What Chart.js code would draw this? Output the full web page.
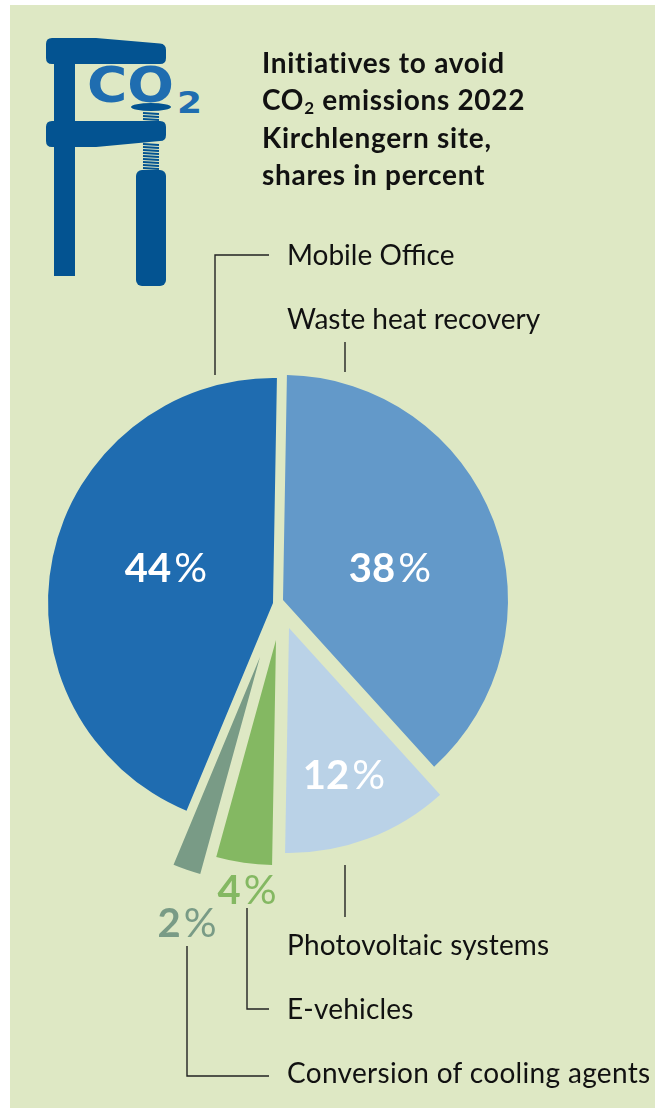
<!DOCTYPE html>
<html>
<head>
<meta charset="utf-8">
<script src="https://cdn.jsdelivr.net/npm/chart.js@4"></script>
<style>
  html, body { margin: 0; padding: 0; background: #fff; }
  #panel { position: absolute; left: 10px; top: 5px; width: 645px; height: 1103px; background: #dee8c4; }
  #myChart { position: absolute; left: 0; top: 0; }
  #clamp { position: absolute; left: 0; top: 0; }
  .txt { position: absolute; font-family: Lato, sans-serif; color: #111; white-space: nowrap; }
  .title { left: 262px; top: 44px; font-size: 28px; line-height: 37.3px; font-weight: 700; letter-spacing: 0.7px; }
  .title sub { font-size: 17px; line-height: 0; vertical-align: -4px; }
  .name { font-size: 28px; line-height: 34px; left: 287px; }
</style>
</head>
<body>
<div id="panel"></div>
<svg id="clamp" width="655" height="300" xmlns="http://www.w3.org/2000/svg">
  <g fill="#035391">
    <rect x="54" y="50" width="21" height="226"/>
    <path d="M52 38 H96 L160 43.5 Q166 44 166 50 V58 Q166 64 160 64 H52 Q46 64 46 58 V44 Q46 38 52 38 Z"/>
    <path d="M52 121 H160 Q166 121 166 127 V135 Q166 141 160 141 L96 147 H52 Q46 147 46 141 V127 Q46 121 52 121 Z"/>
    <rect x="136" y="170" width="30" height="116" rx="6"/>
    <ellipse cx="151" cy="107" rx="20" ry="4"/>
    <g stroke="#035391" stroke-width="2">
      <path d="M143 113 L159 114 M143 116 L159 117 M143 119 L159 120"/>
      <path d="M143 144 L159 145 M143 147 L159 148 M143 150 L159 151 M143 153 L159 154 M143 156 L159 157 M143 159 L159 160 M143 162 L159 163 M143 165 L159 166 M143 168 L159 169"/>
    </g>
  </g>
  <text x="87" y="102" font-family="'DejaVu Sans', sans-serif" font-weight="bold" font-size="50" fill="#1f6db0" textLength="87" lengthAdjust="spacingAndGlyphs">CO</text>
  <text x="177" y="113" font-family="'DejaVu Sans', sans-serif" font-weight="bold" font-size="31" fill="#1f6db0" textLength="25" lengthAdjust="spacingAndGlyphs">2</text>
</svg>
<canvas id="myChart"></canvas>
<div class="txt title">Initiatives to avoid<br>CO<sub>2</sub> emissions 2022<br>Kirchlengern site,<br>shares in percent</div>
<div class="txt name" style="top:237px">Mobile Office</div>
<div class="txt name" style="top:301px">Waste heat recovery</div>
<div class="txt name" style="top:927px; letter-spacing:0.15px">Photovoltaic systems</div>
<div class="txt name" style="top:991px; letter-spacing:0.2px">E-vehicles</div>
<div class="txt name" style="top:1055px; letter-spacing:0.33px">Conversion of cooling agents</div>
<script>
var categories = ['Waste heat recovery', 'Photovoltaic systems', 'E-vehicles', 'Conversion of cooling agents', 'Mobile Office'];
var shares = [38, 12, 4, 2, 44];
var sliceColors = ['#6399c9', '#bad2e7', '#84b862', '#799b86', '#1f6cb0'];

// how far each slice is pulled out of the pie, in pixels
var pullX = [4, 10, -3, -19, -6];
var pullY = [-6, 22, 34, 51, -3];
// where the percent labels sit
var labelX = [390, 344, 247, 187, 166];
var labelY = [569, 776, 891, 924, 569];
var labelColors = ['#fff', '#fff', '#84b862', '#799b86', '#fff'];

// leader lines, as [x, y] runs
var leaders = [
  [[269, 255], [215, 255], [215, 375]],
  [[345, 342], [345, 372]],
  [[345, 865], [345, 917]],
  [[247, 908], [247, 1009], [269, 1009]],
  [[187, 946], [187, 1076], [269, 1076]]
];

var explodedSlices = {
  id: 'explodedSlices',
  beforeDatasetDraw: function (chart, args) {
    var ctx = chart.ctx;
    args.meta.data.forEach(function (arc, i) {
      ctx.save();
      ctx.translate(pullX[i], pullY[i]);
      arc.draw(ctx);
      ctx.restore();
    });
    return false;
  },
  afterDraw: function (chart) {
    var ctx = chart.ctx;
    ctx.save();
    ctx.strokeStyle = '#222';
    ctx.lineWidth = 1.4;
    leaders.forEach(function (run) {
      ctx.beginPath();
      run.forEach(function (p, i) {
        if (i == 0) ctx.moveTo(p[0], p[1]);
        else ctx.lineTo(p[0], p[1]);
      });
      ctx.stroke();
    });
    ctx.textBaseline = 'middle';
    ctx.textAlign = 'left';
    var numFont = 'bold 40px Lato';
    var pctFont = '400 41px Lato';
    shares.forEach(function (v, i) {
      ctx.fillStyle = labelColors[i];
      var num = String(v);
      ctx.font = numFont;
      var w1 = ctx.measureText(num).width;
      ctx.font = pctFont;
      var w2 = ctx.measureText('%').width;
      var x = labelX[i] - (w1 + 3 + w2) / 2;
      ctx.font = numFont;
      ctx.fillText(num, x, labelY[i]);
      ctx.font = pctFont;
      ctx.fillText('%', x + w1 + 3, labelY[i]);
    });
    ctx.restore();
  }
};

var canvas = document.getElementById('myChart');
canvas.style.width = '655px';
canvas.style.height = '1110px';
canvas.width = 655;
canvas.height = 1110;

var myChart = new Chart(canvas.getContext('2d'), {
  type: 'pie',
  data: {
    labels: categories,
    datasets: [{
      data: shares,
      backgroundColor: sliceColors,
      borderWidth: 0
    }]
  },
  options: {
    responsive: false,
    animation: false,
    rotation: 1,
    layout: { padding: { left: 54, right: 151, top: 381, bottom: 279 } },
    plugins: {
      legend: { display: false },
      tooltip: { enabled: false }
    }
  },
  plugins: [explodedSlices]
});
</script>
</body>
</html>
